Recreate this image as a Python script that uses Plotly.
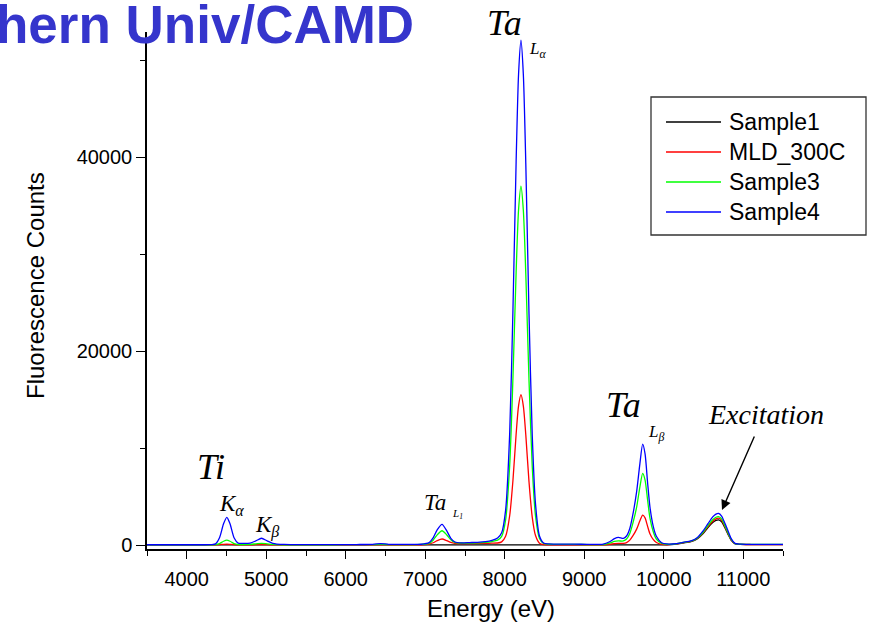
import plotly.graph_objects as go

# ---------------- data ----------------
energy = [
    3500, 3804, 4108, 4311, 4362, 4412, 4463, 4504, 4544, 4595,
    4646, 4717, 4798, 4869, 4940, 5011, 5082, 5223, 5528, 5832,
    6136, 6339, 6440, 6541, 6744, 6947, 7048, 7099, 7150, 7211,
    7271, 7322, 7373, 7454, 7555, 7657, 7758, 7839, 7910, 7961,
    8011, 8062, 8103, 8143, 8174, 8204, 8234, 8265, 8305, 8346,
    8387, 8437, 8488, 8549, 8670, 8873, 9076, 9238, 9319, 9380,
    9431, 9492, 9532, 9573, 9613, 9659, 9700, 9735, 9765, 9796,
    9826, 9867, 9907, 9973, 10039, 10161, 10242, 10343, 10424, 10495,
    10556, 10616, 10657, 10688, 10728, 10769, 10809, 10850, 10895, 10961,
    11104, 11306, 11500,
]

sample1 = [
    10, 10, 10, 10, 10, 10, 10, 10, 10, 10,
    10, 10, 10, 10, 10, 10, 10, 10, 10, 10,
    10, 10, 10, 10, 10, 10, 10, 10, 10, 10,
    10, 10, 10, 10, 10, 10, 10, 10, 10, 10,
    10, 10, 10, 10, 10, 10, 10, 10, 10, 10,
    10, 10, 10, 10, 10, 10, 10, 10, 10, 10,
    10, 10, 10, 10, 10, 10, 10, 10, 10, 10,
    10, 10, 10, 10, 10, 100, 210, 350, 650, 1180,
    1800, 2320, 2540, 2600, 2400, 1780, 1100, 470, 130, 60,
    40, 40, 40,
]

mld_300c = [
    10, 10, 10, 15, 20, 40, 75, 90, 75, 40,
    20, 20, 25, 35, 40, 35, 20, 15, 15, 15,
    15, 20, 25, 20, 25, 30, 100, 236, 456, 620,
    452, 270, 181, 150, 150, 160, 170, 190, 210, 325,
    900, 3020, 6660, 11420, 14365, 15500, 14325, 11330, 6530, 2860,
    975, 190, 40, 30, 30, 30, 20, 20, 80, 140,
    170, 170, 250, 500, 960, 1640, 2500, 3090, 2800, 1950,
    1170, 580, 260, 70, 30, 110, 230, 370, 690, 1250,
    1900, 2450, 2700, 2770, 2560, 1900, 1180, 510, 140, 70,
    50, 50, 50,
]

sample3 = [
    20, 20, 20, 25, 40, 150, 390, 500, 390, 150,
    50, 50, 70, 120, 170, 120, 60, 30, 30, 30,
    35, 40, 60, 45, 45, 60, 180, 500, 1050, 1470,
    1040, 540, 280, 210, 210, 230, 280, 360, 500, 890,
    2600, 8200, 17200, 28100, 34600, 37000, 34500, 27900, 17000, 8050,
    3000, 670, 160, 80, 70, 70, 40, 50, 200, 370,
    420, 420, 620, 1200, 2300, 3900, 6000, 7390, 6700, 4700,
    2800, 1400, 620, 170, 80, 130, 260, 390, 730, 1320,
    2000, 2600, 2860, 2930, 2700, 2000, 1250, 550, 150, 80,
    60, 60, 60,
]

sample4 = [
    30, 30, 30, 40, 120, 750, 2190, 2850, 2190, 750,
    200, 170, 200, 430, 700, 430, 180, 60, 40, 40,
    50, 70, 150, 70, 60, 80, 250, 740, 1570, 2130,
    1460, 690, 310, 220, 250, 280, 350, 480, 720, 1260,
    3600, 11500, 24200, 39500, 48600, 52050, 48500, 39250, 23840, 11300,
    4220, 930, 210, 110, 100, 100, 60, 90, 340, 660,
    790, 680, 930, 1700, 3200, 5500, 8400, 10400, 9400, 6500,
    3950, 1950, 900, 240, 110, 150, 280, 420, 780, 1450,
    2200, 2900, 3180, 3260, 2990, 2250, 1440, 640, 170, 90,
    70, 70, 70,
]

series_names = ["Sample1", "MLD_300C", "Sample3", "Sample4"]
series_values = [sample1, mld_300c, sample3, sample4]
series_colors = ["#000000", "#FF0000", "#00FF00", "#0000FF"]

x_ticks = [4000, 5000, 6000, 7000, 8000, 9000, 10000, 11000]
y_ticks = [0, 20000, 40000]

x_title = "Energy (eV)"
y_title = "Fluorescence Counts"

# ---------------- figure ----------------
L, R, T, B = 147, 87, 32, 78
W, H = 870, 627
PW, PH = W - L - R, H - T - B


def px(x):
    return (x - L) / PW


def py(y):
    return (H - B - y) / PH


fig = go.Figure()
for name, vals, col in zip(series_names, series_values, series_colors):
    fig.add_trace(go.Scatter(
        x=energy, y=vals, name=name, mode="lines", showlegend=False,
        line=dict(color=col, width=1.3, shape="spline", smoothing=0.7),
    ))

serif = "Liberation Serif, Times New Roman, serif"
sans = "Liberation Sans, Arial, sans-serif"

annots = [
    # cropped header text
    dict(text="<b>hern Univ/CAMD</b>", x=px(416), y=py(24), xanchor="right",
         font=dict(family=sans, size=53, color="#3535CC")),
    dict(text="<i>Ta</i>", x=px(504), y=py(23), font=dict(family=serif, size=36)),
    dict(text="<i>L<sub>α</sub></i>", x=px(537), y=py(50), font=dict(family=serif, size=17)),
    dict(text="<i>Ti</i>", x=px(211), y=py(467), font=dict(family=serif, size=36)),
    dict(text="<i>K<sub>α</sub></i>", x=px(231), y=py(505), font=dict(family=serif, size=23)),
    dict(text="<i>K<sub>β</sub></i>", x=px(267), y=py(526), font=dict(family=serif, size=23)),
    dict(text="<i>Ta</i>", x=px(435), y=py(502), font=dict(family=serif, size=23)),
    dict(text="<i>L<sub>1</sub></i>", x=px(457), y=py(514), font=dict(family=serif, size=11)),
    dict(text="<i>Ta</i>", x=px(623), y=py(405), font=dict(family=serif, size=36)),
    dict(text="<i>L<sub>β</sub></i>", x=px(656), y=py(433), font=dict(family=serif, size=17)),
    dict(text="<i>Excitation</i>", x=px(766), y=py(414), font=dict(family=serif, size=28)),
    # axis titles (placed where the reference shows them)
    dict(text=x_title, x=px(491), y=py(608), font=dict(family=sans, size=24)),
    dict(text=y_title, x=px(35), y=py(286), textangle=-90, font=dict(family=sans, size=24)),
]
for a in annots:
    a.setdefault("xanchor", "center")
    a.setdefault("yanchor", "middle")
    a["font"].setdefault("color", "black")
    fig.add_annotation(xref="paper", yref="paper", showarrow=False, **a)

# arrow pointing at the excitation peak
fig.add_annotation(xref="paper", yref="paper", x=px(722), y=py(510), text="",
                   showarrow=True, arrowhead=2, arrowsize=1.4, arrowwidth=1.4,
                   arrowcolor="black", axref="pixel", ayref="pixel", ax=33, ay=-75)

# legend box (drawn to match the reference's long line samples)
leg_left, leg_right, leg_top, leg_bottom = 651, 866, 97, 235
row_y = [122, 152, 182, 212]
fig.add_shape(type="rect", xref="paper", yref="paper",
              x0=px(leg_left), x1=px(leg_right), y0=py(leg_bottom), y1=py(leg_top),
              line=dict(color="#333333", width=1.3), fillcolor="white", layer="above")
for name, col, ry in zip(series_names, series_colors, row_y):
    fig.add_shape(type="line", xref="paper", yref="paper",
                  x0=px(666), x1=px(721), y0=py(ry), y1=py(ry),
                  line=dict(color=col, width=1.3), layer="above")
    fig.add_annotation(xref="paper", yref="paper", x=px(727), y=py(ry),
                       text=name, showarrow=False, xanchor="left", yanchor="middle",
                       font=dict(family=sans, size=23, color="black"))

fig.update_layout(
    width=W, height=H,
    margin=dict(l=L, r=R, t=T, b=B, pad=0),
    paper_bgcolor="white", plot_bgcolor="white",
    font=dict(family=sans, color="black", size=20),
    showlegend=False,
    xaxis=dict(
        range=[3500, 11500], tickvals=x_ticks, tickformat="d", ticks="outside", ticklen=8,
        tickwidth=1.3, tickcolor="black", showline=True, linecolor="black",
        linewidth=1.5, showgrid=False, zeroline=False, automargin=False,
        tickfont=dict(size=20), ticklabelstandoff=3,
        minor=dict(dtick=500, tick0=3500, ticks="outside", ticklen=5, tickwidth=1.3,
                   tickcolor="black", showgrid=False),
    ),
    yaxis=dict(
        range=[-410, 52900], tickvals=y_ticks, tickformat="d", ticks="outside", ticklen=9,
        tickwidth=1.3, tickcolor="black", showline=True, linecolor="black",
        linewidth=1.5, showgrid=False, zeroline=False, automargin=False,
        tickfont=dict(size=20),
        minor=dict(dtick=10000, tick0=0, ticks="outside", ticklen=5, tickwidth=1.3,
                   tickcolor="black", showgrid=False),
    ),
)

fig.write_html("out.html", config={"displayModeBar": False},
               post_script="document.body.style.margin='0';")
